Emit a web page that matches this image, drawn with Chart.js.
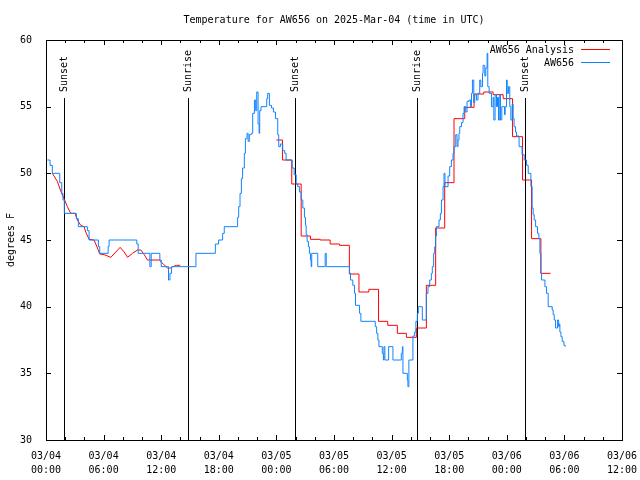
<!DOCTYPE html>
<html>
<head>
<meta charset="utf-8">
<script src="https://cdn.jsdelivr.net/npm/chart.js@4.4.1/dist/chart.umd.min.js"></script>
<style>
    body { margin: 0; background: #fff; }
    canvas { display: block; }
</style>
</head>
<body>
<canvas id="tempChart" width="640" height="480"></canvas>
<script>
//################# Data (hours since 03/04 00:00 UTC, degrees F) #################
const obsTimes = [0.14, 0.42, 0.66, 1.43, 1.64, 1.77, 1.91, 3.16, 3.37, 4.31, 4.49, 5.46, 5.60, 6.47, 6.57, 9.46, 9.60,
    10.82, 10.96, 11.86, 12.00, 12.76, 12.91, 13.08, 15.62, 17.64, 17.98, 18.40, 18.57, 19.96, 20.07, 20.21, 20.35,
    20.48, 20.66, 20.77, 20.94, 21.05, 21.18, 21.39, 21.53, 21.71, 21.84, 21.95, 22.09, 22.20, 22.26, 22.40, 22.99,
    23.09, 23.27, 23.48, 23.69, 23.90, 24.14, 24.24, 24.42, 24.66, 24.87, 25.01, 25.64, 25.85, 26.06, 26.22, 26.40,
    26.58, 26.75, 26.92, 27.03, 27.10, 27.20, 27.34, 27.44, 27.55, 27.62, 27.68, 28.31, 29.08, 29.19, 31.62, 31.72,
    31.96, 32.14, 32.24, 32.66, 32.80, 34.30, 34.44, 34.57, 34.68, 35.03, 35.14, 35.20, 35.30, 35.69, 36.14, 37.01,
    37.12, 37.18, 37.64, 37.70, 37.80, 38.22, 38.40, 38.53, 38.68, 38.78, 39.20, 39.62, 39.79, 39.97, 40.14, 40.24,
    40.38, 40.49, 40.59, 40.67, 40.94, 41.08, 41.19, 41.36, 41.46, 41.56, 41.88, 42.05, 42.23, 42.40, 42.50, 42.68,
    42.82, 42.92, 43.02, 43.10, 43.28, 43.44, 43.55, 43.72, 43.86, 44.07, 44.21, 44.32, 44.42, 44.56, 44.66, 44.84,
    45.00, 45.18, 45.29, 45.47, 45.53, 45.71, 45.81, 45.95, 46.02, 46.16, 46.40, 46.57, 46.65, 46.78, 46.93, 47.03,
    47.14, 47.27, 47.34, 47.48, 47.76, 47.83, 47.97, 48.04, 48.18, 48.31, 48.42, 48.56, 48.66, 48.76, 48.91, 49.01,
    49.28, 49.59, 49.81, 50.06, 50.23, 50.51, 50.64, 50.75, 50.85, 51.00, 51.20, 51.34, 51.45, 51.55, 51.62, 51.97,
    52.14, 52.31, 52.73, 52.83, 52.94, 53.08, 53.29, 53.40, 53.46, 53.53, 53.64, 53.77, 53.95, 54.09];
const obsTemps = [51.0, 50.6, 50.0, 49.3, 48.5, 48.0, 47.0, 46.6, 46.0, 45.7, 45.0, 44.5, 44.0, 44.5, 45.0, 44.7, 44.0,
    43.0, 44.0, 43.5, 43.0, 42.0, 42.5, 43.0, 44.0, 44.7, 45.0, 45.5, 46.0, 46.7, 47.5, 48.5, 49.6,
    50.4, 51.5, 52.6, 53.0, 52.4, 52.9, 53.0, 54.5, 55.5, 54.7, 56.1, 53.7, 53.0, 54.7, 55.0, 55.6,
    56.0, 55.1, 54.9, 54.6, 54.1, 52.9, 52.0, 52.2, 51.7, 51.5, 51.0, 50.4, 49.9, 49.2, 49.0, 48.6,
    48.0, 47.4, 46.7, 46.1, 45.4, 44.9, 44.5, 44.0, 43.5, 43.0, 44.0, 43.0, 44.0, 43.0, 42.5, 42.0,
    41.6, 41.0, 40.1, 39.5, 38.9, 38.5, 38.0, 37.5, 37.0, 36.5, 36.0, 37.0, 36.0, 37.0, 36.0, 36.5,
    37.0, 35.0, 34.5, 34.0, 36.0, 37.8, 38.1, 38.9, 39.5, 40.0, 39.0, 41.0, 41.5, 42.0, 42.5, 43.0,
    44.0, 44.5, 45.3, 46.0, 46.5, 47.0, 48.0, 49.0, 50.0, 49.0, 49.8, 50.5, 51.0, 51.5, 52.0, 52.9,
    52.0, 52.5, 53.0, 53.5, 53.8, 54.5, 55.0, 54.6, 55.4, 55.5, 55.0, 56.0, 57.0, 55.3, 55.9, 55.5,
    56.0, 57.0, 56.5, 57.5, 58.1, 57.3, 57.9, 59.0, 56.5, 56.0, 55.0, 55.7, 54.0, 55.9, 55.0, 55.7,
    54.0, 55.9, 54.0, 55.0, 54.4, 55.0, 57.0, 56.0, 56.5, 55.0, 54.0, 55.2, 54.1, 53.5, 53.1, 52.8,
    52.0, 51.4, 51.0, 50.6, 50.0, 49.0, 47.4, 46.9, 46.5, 46.0, 45.5, 45.1, 44.0, 42.5, 42.0, 41.5,
    41.0, 40.0, 39.75, 39.4, 39.0, 38.4, 39.0, 38.5, 38.7, 38.1, 37.75, 37.4, 37.1, 37.0];

// analysis, first night (fine resolution)
const anaEarlyTimes = [0.66, 1.18, 1.60, 1.88, 2.23, 2.57, 3.03, 3.27, 3.62, 3.97, 4.14, 4.49, 5.01, 5.36, 5.60, 6.05,
    6.75, 7.27, 7.72, 8.14, 8.49, 9.01, 9.53, 9.88, 10.23, 10.57, 11.79, 12.21, 12.66, 13.01, 13.18, 13.60, 13.98];
const anaEarlyTemps = [50.0, 49.4, 48.55, 48.1, 47.5, 47.0, 47.0, 46.5, 46.1, 46.0, 45.6, 45.05, 45.0, 44.4, 43.95, 43.9,
    43.7, 44.1, 44.45, 44.1, 43.7, 44.0, 44.25, 44.25, 43.9, 43.5, 43.5, 43.2, 42.9, 42.9, 43.0, 43.1, 43.1];

// analysis, hourly from 03/05
const anaTimes = [24.00, 24.63, 25.60, 26.58, 27.55, 28.56, 29.60, 30.57, 31.60, 32.60, 33.63, 34.64, 35.60, 36.60,
    37.54, 38.58, 39.62, 40.59, 41.53, 42.50, 43.62, 44.59, 45.60, 46.57, 47.62, 48.60, 49.64, 50.58, 51.55, 52.56];
const anaTemps = [52.5, 51.0, 49.2, 45.3, 45.05, 45.0, 44.7, 44.6, 42.45, 41.1, 41.3, 38.9, 38.6, 38.0,
    37.7, 38.4, 41.6, 45.9, 49.3, 54.1, 54.95, 55.95, 56.1, 55.9, 55.6, 52.75, 49.5, 45.1, 42.5, 42.5];

const sunTimes = [1.88, 14.75, 25.91, 38.64, 49.91];
const sunLabels = ['Sunset', 'Sunrise', 'Sunset', 'Sunrise', 'Sunset'];

const xTickValues = [0, 6, 12, 18, 24, 30, 36, 42, 48, 54, 60];
const xTickLabels = [['03/04', '00:00'], ['03/04', '06:00'], ['03/04', '12:00'], ['03/04', '18:00'],
    ['03/05', '00:00'], ['03/05', '06:00'], ['03/05', '12:00'], ['03/05', '18:00'],
    ['03/06', '00:00'], ['03/06', '06:00'], ['03/06', '12:00']];
const yTickValues = [30, 35, 40, 45, 50, 55, 60];

const RED = '#ff0000';
const BLUE = 'rgb(16,132,255)';
const FONT = '10px "DejaVu Sans Mono"';

const toPoints = (t, v) => t.map((x, i) => ({ x: x, y: v[i] }));

//################# gnuplot-like frame, ticks, sun markers, title and key #################
const gnuplotFrame = {
    id: 'gnuplotFrame',
    beforeDatasetsDraw(chart) {
        const { ctx, chartArea: a, scales: { x } } = chart;
        ctx.save();
        ctx.strokeStyle = '#000';
        ctx.fillStyle = '#000';
        ctx.lineWidth = 1;
        ctx.font = FONT;
        sunTimes.forEach((t, i) => {
            const px = Math.round(x.getPixelForValue(t)) + 0.5;
            ctx.beginPath();
            ctx.moveTo(px, a.top + 58);
            ctx.lineTo(px, a.bottom);
            ctx.stroke();
            ctx.save();
            ctx.translate(px, a.top + 52);
            ctx.rotate(-Math.PI / 2);
            ctx.textAlign = 'left';
            ctx.textBaseline = 'middle';
            ctx.fillText(sunLabels[i], 0, 0);
            ctx.restore();
        });
        ctx.restore();
    },
    afterDraw(chart) {
        const { ctx, chartArea: a, scales: { x, y } } = chart;
        ctx.save();
        ctx.strokeStyle = '#000';
        ctx.lineWidth = 1;
        ctx.strokeRect(a.left + 0.5, a.top + 0.5, a.right - a.left, a.bottom - a.top);

        // x ticks every 2 hours, longer on labelled ones, mirrored on top
        ctx.beginPath();
        for (let h = 2; h < 60; h += 2) {
            const px = Math.round(x.getPixelForValue(h)) + 0.5;
            const len = h % 6 === 0 ? 5 : 3;
            ctx.moveTo(px, a.bottom);
            ctx.lineTo(px, a.bottom - len);
            ctx.moveTo(px, a.top);
            ctx.lineTo(px, a.top + len);
        }
        yTickValues.forEach(v => {
            const py = Math.round(y.getPixelForValue(v)) + 0.5;
            ctx.moveTo(a.left, py);
            ctx.lineTo(a.left + 5, py);
            ctx.moveTo(a.right, py);
            ctx.lineTo(a.right - 5, py);
        });
        ctx.stroke();

        ctx.fillStyle = '#000';
        ctx.font = FONT;
        ctx.textAlign = 'center';
        ctx.textBaseline = 'middle';
        ctx.fillText('Temperature for AW656 on 2025-Mar-04 (time in UTC)', (a.left + a.right) / 2, 20);

        ctx.save();
        ctx.translate(11, (a.top + a.bottom) / 2);
        ctx.rotate(-Math.PI / 2);
        ctx.fillText('degrees F', 0, 0);
        ctx.restore();

        // key, top right
        const keyItems = [chart.data.datasets[0], chart.data.datasets[2]];
        keyItems.forEach((ds, i) => {
            const ky = 50 + i * 13;
            ctx.textAlign = 'right';
            ctx.fillStyle = '#000';
            ctx.fillText(ds.label, 574, ky);
            ctx.strokeStyle = ds.borderColor;
            ctx.beginPath();
            ctx.moveTo(581, ky - 0.5);
            ctx.lineTo(610, ky - 0.5);
            ctx.stroke();
        });
        ctx.restore();
    }
};

//################# Build the chart #################
const tempChart = new Chart(document.getElementById('tempChart'), {
    type: 'line',
    data: {
        datasets: [
            {
                label: 'AW656 Analysis',
                data: toPoints(anaTimes, anaTemps),
                borderColor: RED,
                borderWidth: 1,
                pointRadius: 0,
                stepped: true,
                order: 1,
            },
            {
                label: 'AW656 Analysis',
                data: toPoints(anaEarlyTimes, anaEarlyTemps),
                borderColor: RED,
                borderWidth: 1,
                pointRadius: 0,
                order: 1,
            },
            {
                label: 'AW656',
                data: toPoints(obsTimes, obsTemps),
                borderColor: BLUE,
                borderWidth: 1,
                pointRadius: 0,
                stepped: true,
                order: 0,
            },
        ],
    },
    options: {
        responsive: false,
        animation: false,
        devicePixelRatio: 1,
        layout: { padding: { top: 40, right: 18, left: 0, bottom: 0 } },
        plugins: {
            legend: { display: false },
            tooltip: { enabled: false },
            title: { display: false },
        },
        scales: {
            x: {
                type: 'linear',
                min: xTickValues[0],
                max: xTickValues[xTickValues.length - 1],
                grid: { display: false },
                border: { display: false },
                afterFit: (s) => { s.height = 40; s.paddingLeft = 0; s.paddingRight = 0; },
                afterBuildTicks: (s) => { s.ticks = xTickValues.map(v => ({ value: v })); },
                ticks: {
                    autoSkip: false,
                    maxRotation: 0,
                    padding: 1,
                    color: '#000',
                    font: { family: 'DejaVu Sans Mono', size: 10, lineHeight: 1.45 },
                    callback: (v) => xTickLabels[xTickValues.indexOf(v)],
                },
            },
            y: {
                min: yTickValues[0],
                max: yTickValues[yTickValues.length - 1],
                grid: { display: false },
                border: { display: false },
                afterFit: (s) => { s.width = 46; s.paddingTop = 0; s.paddingBottom = 0; },
                afterBuildTicks: (s) => { s.ticks = yTickValues.map(v => ({ value: v })); },
                ticks: {
                    padding: 6,
                    color: '#000',
                    font: { family: 'DejaVu Sans Mono', size: 10 },
                },
            },
        },
    },
    plugins: [gnuplotFrame],
});
</script>
</body>
</html>
